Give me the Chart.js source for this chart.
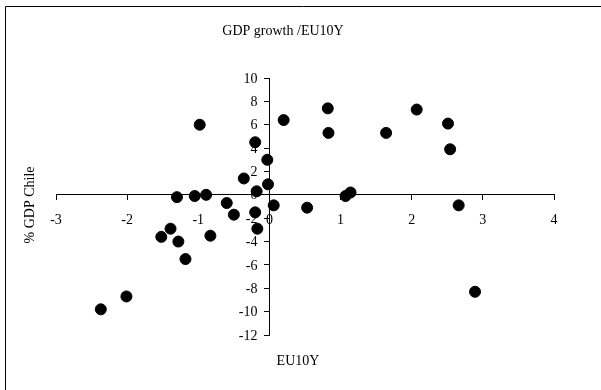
<!DOCTYPE html>
<html>
<head>
<meta charset="utf-8">
<style>
  html, body { margin: 0; padding: 0; background: #fff; }
  #wrap { width: 601px; height: 390px; position: relative; }
</style>
<script src="https://cdn.jsdelivr.net/npm/chart.js@4/dist/chart.umd.min.js"></script>
</head>
<body>
<div id="wrap"><canvas id="c" width="601" height="390"></canvas></div>
<script>
const chartTitle = "GDP growth /EU10Y";
const xTitle = "EU10Y";
const yTitle = "% GDP Chile";

// EU10Y (x) values
const eu10y = [
  -0.98, 0.20, -0.20, -0.03, -0.36, -0.02, -0.18, -1.30, -1.05, -0.89,
  -0.60, 0.06, 0.53, -0.50, -0.20, -1.39, -0.17, -1.52, -1.28, -0.83,
  -1.18, -2.01, -2.37, 0.82, 0.83, 1.64, 2.07, 2.51, 2.54, 1.07,
  1.14, 2.66, 2.89
];
// % GDP Chile (y) values
const gdpChile = [
  6.0, 6.4, 4.5, 3.0, 1.4, 0.9, 0.3, -0.2, -0.1, 0.0,
  -0.7, -0.9, -1.1, -1.7, -1.5, -2.9, -2.9, -3.6, -4.0, -3.5,
  -5.5, -8.7, -9.8, 7.4, 5.3, 5.3, 7.3, 6.1, 3.9, -0.1,
  0.2, -0.9, -8.3
];

const xMin = -3, xMax = 4, xStep = 1;
const yMin = -12, yMax = 10, yStep = 2;

const points = eu10y.map((x, i) => ({ x: x, y: gdpChile[i] }));

const serif = "'Liberation Serif', 'DejaVu Serif', serif";

const decor = {
  id: 'decor',
  beforeDatasetsDraw(chart) {
    // y tick labels, right-aligned to the left of the centred y axis
    const ctx = chart.ctx;
    const ys = chart.scales.y, xs = chart.scales.x;
    const axisX = xs.getPixelForValue(0);
    ctx.save();
    ctx.fillStyle = '#000';
    ctx.font = "14px " + serif;
    ctx.textAlign = 'right';
    ctx.textBaseline = 'middle';
    ys.ticks.forEach(t => {
      ctx.fillText(String(t.value), axisX - 12, ys.getPixelForValue(t.value) + 1);
    });
    ctx.restore();
  },
  afterDraw(chart) {
    const ctx = chart.ctx;
    ctx.save();
    ctx.strokeStyle = '#000';
    ctx.lineWidth = 1;
    ctx.beginPath();
    ctx.moveTo(5.5, 400);
    ctx.lineTo(5.5, 6.5);
    ctx.lineTo(620, 6.5);
    ctx.stroke();
    ctx.fillStyle = '#000';
    ctx.font = "14px " + serif;
    ctx.textAlign = 'center';
    ctx.textBaseline = 'middle';
    ctx.fillText(chartTitle, 283, 31);
    ctx.fillText(xTitle, 298, 361);
    ctx.translate(30, 205);
    ctx.rotate(-Math.PI / 2);
    ctx.fillText(yTitle, 0, 0);
    ctx.restore();
  }
};

new Chart(document.getElementById('c'), {
  type: 'scatter',
  data: {
    datasets: [{
      data: points,
      backgroundColor: '#000',
      borderColor: '#000',
      pointRadius: 5.5,
      pointHoverRadius: 5.5,
      pointStyle: 'circle'
    }]
  },
  options: {
    responsive: false,
    animation: false,
    devicePixelRatio: 1,
    layout: { padding: { left: 56, right: 47, top: 78, bottom: 55 } },
    plugins: {
      legend: { display: false },
      title: { display: false },
      tooltip: { enabled: false }
    },
    scales: {
      x: {
        type: 'linear',
        min: xMin, max: xMax,
        position: { y: 0 },
        ticks: {
          stepSize: xStep,
          color: '#000',
          font: { family: serif, size: 14 },
          padding: 12,
          maxRotation: 0
        },
        grid: { display: true, drawOnChartArea: false, drawTicks: true, tickLength: 5, color: '#000' },
        border: { display: true, color: '#000', width: 1 }
      },
      y: {
        type: 'linear',
        min: yMin, max: yMax,
        position: { x: 0 },
        ticks: {
          stepSize: yStep,
          display: false
        },
        grid: { display: true, drawOnChartArea: false, drawTicks: true, tickLength: 5, color: '#000' },
        border: { display: true, color: '#000', width: 1 }
      }
    }
  },
  plugins: [decor]
});
</script>
</body>
</html>
